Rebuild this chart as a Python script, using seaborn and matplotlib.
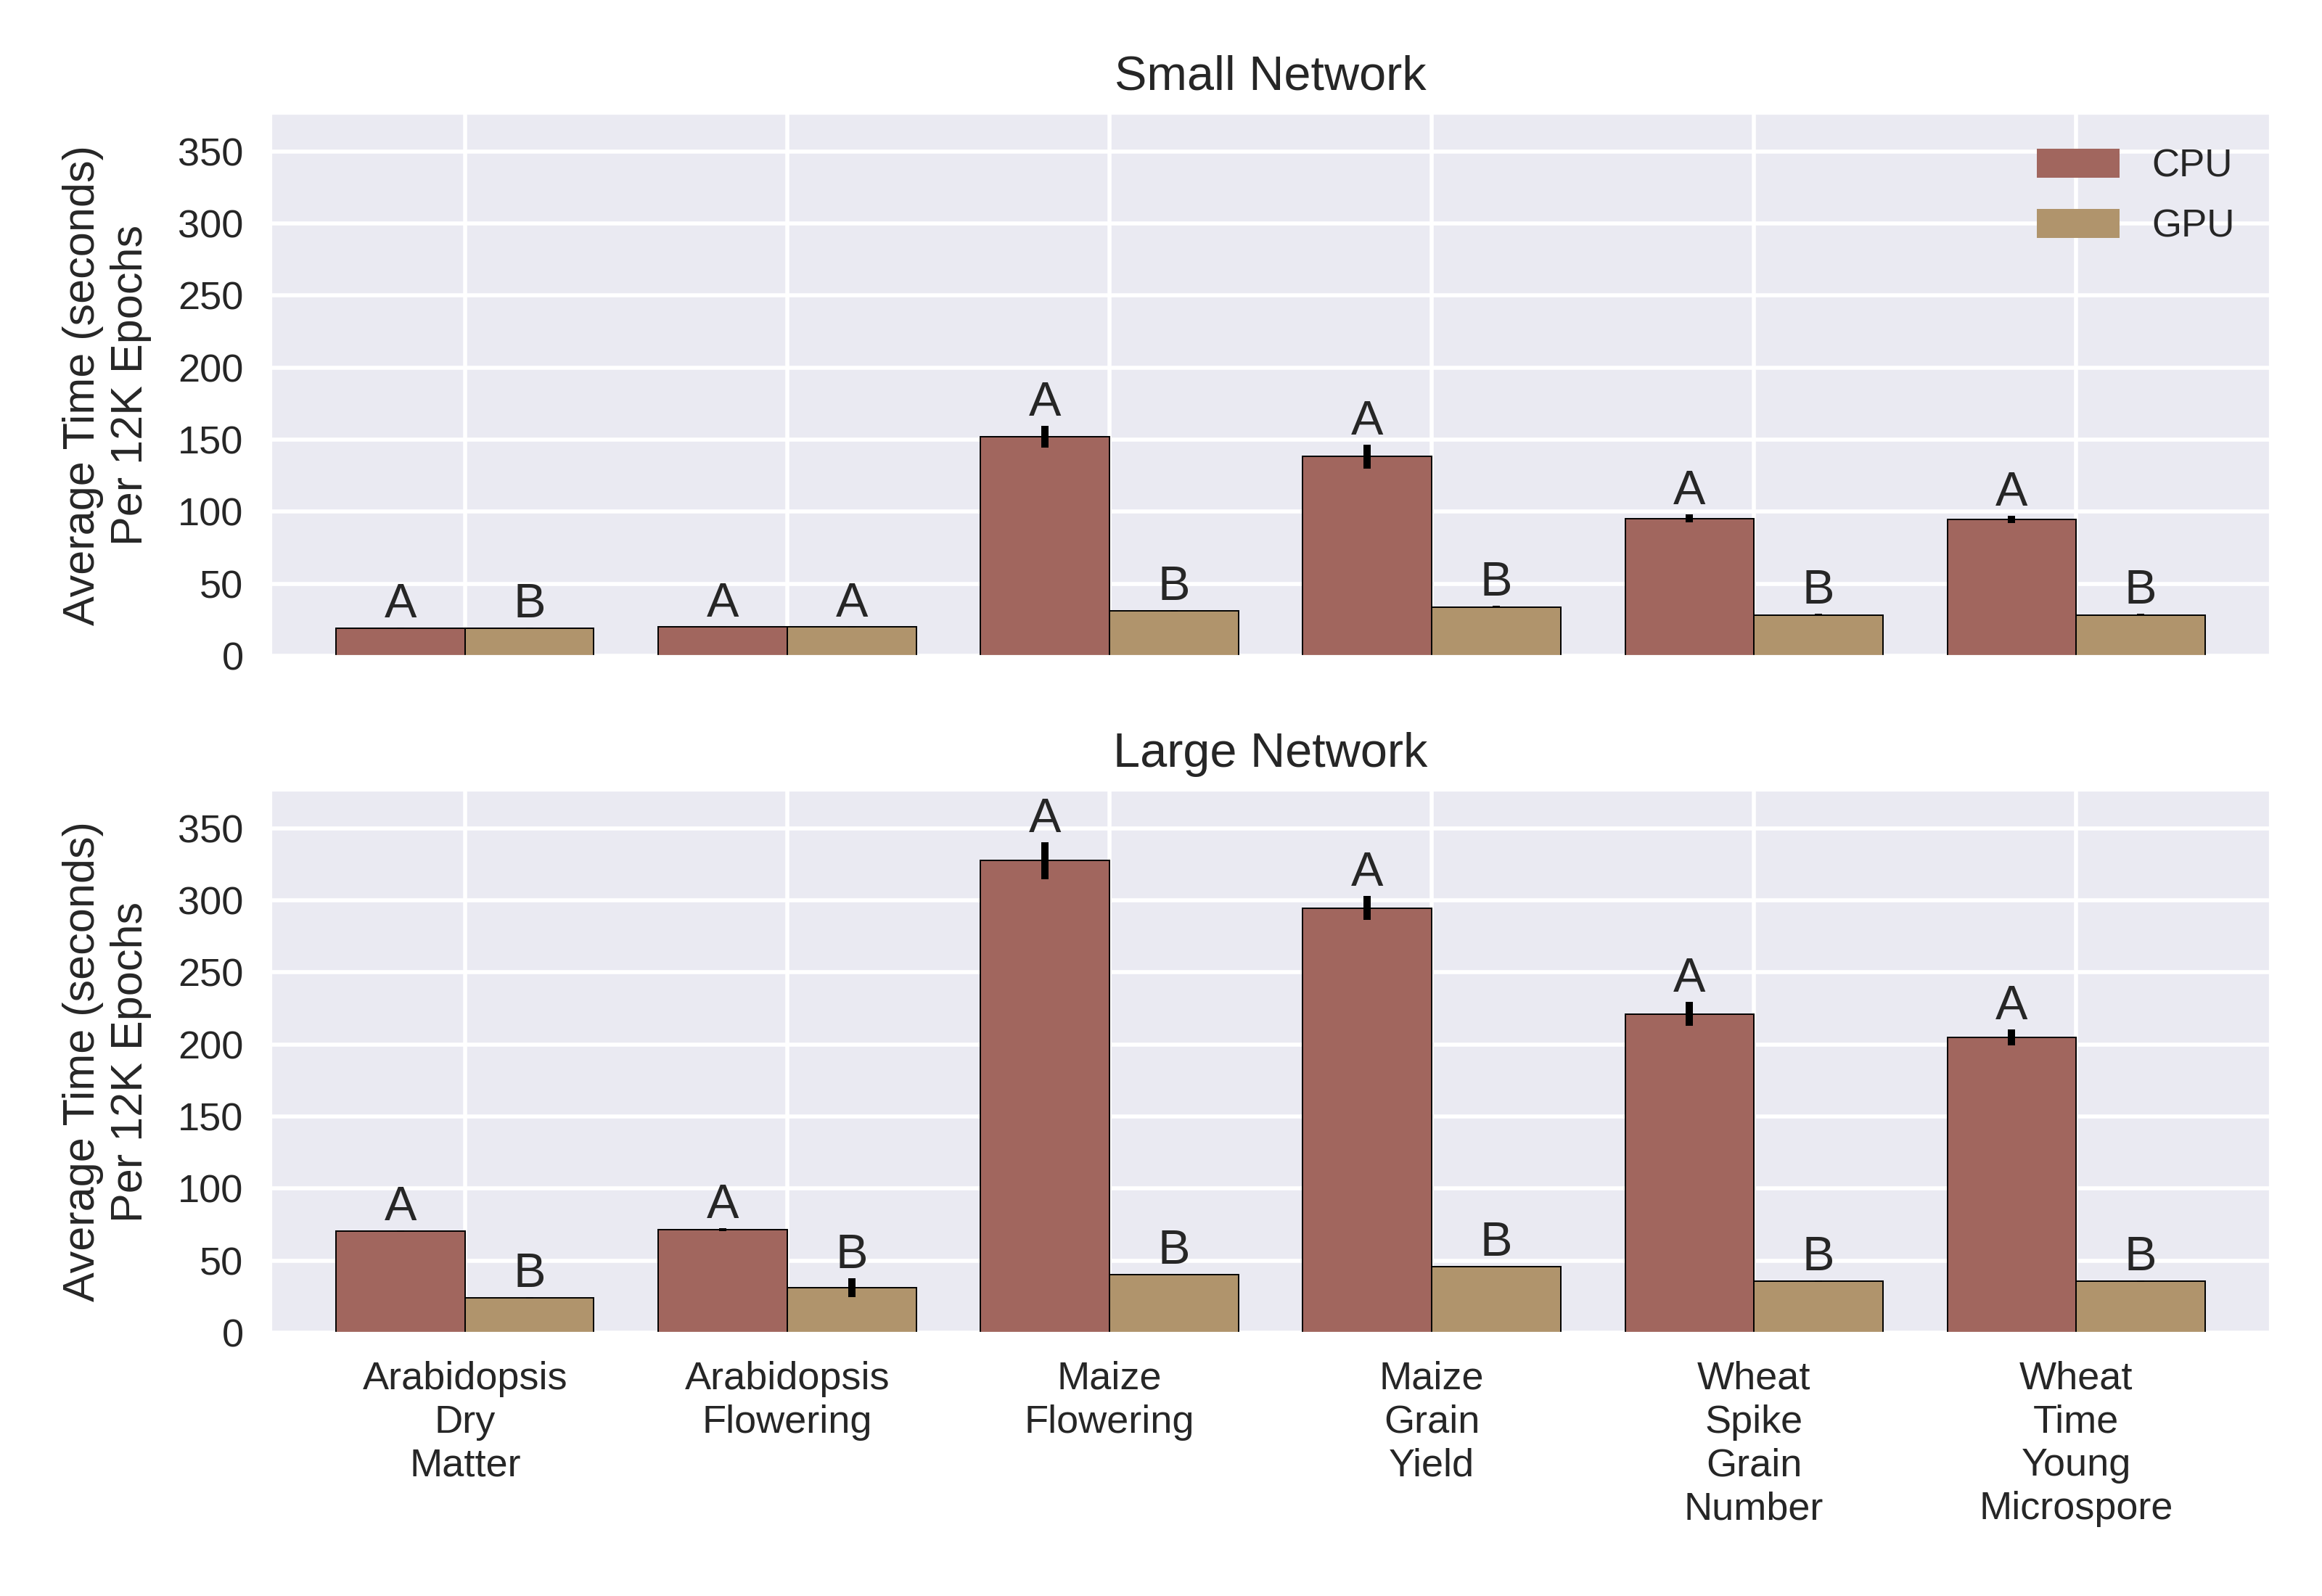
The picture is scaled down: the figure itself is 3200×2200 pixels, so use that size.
import matplotlib
matplotlib.use("Agg")
import matplotlib.pyplot as plt
from matplotlib.patches import Patch
import seaborn as sns
import pandas as pd

# --- chart data ---
CATEGORIES = [
    "Arabidopsis\nDry\nMatter",
    "Arabidopsis\nFlowering",
    "Maize\nFlowering",
    "Maize\nGrain\nYield",
    "Wheat\nSpike\nGrain\nNumber",
    "Wheat\nTime\nYoung\nMicrospore",
]
DEVICES = ["CPU", "GPU"]

SMALL_CPU = [19.4, 20.0, 151.9, 138.3, 95.3, 94.8]
SMALL_GPU = [19.4, 20.0, 31.5, 34.0, 28.5, 28.5]
SMALL_CPU_ERR = [0.3, 0.4, 7.6, 8.4, 2.8, 2.5]
SMALL_GPU_ERR = [0.2, 0.3, 0.5, 0.6, 0.6, 0.6]
SMALL_CPU_LETTERS = ["A", "A", "A", "A", "A", "A"]
SMALL_GPU_LETTERS = ["B", "A", "B", "B", "B", "B"]

LARGE_CPU = [70.5, 71.5, 327.5, 294.5, 221.1, 204.8]
LARGE_GPU = [24.2, 31.2, 40.2, 45.7, 35.7, 35.7]
LARGE_CPU_ERR = [0.4, 0.8, 12.8, 8.3, 8.4, 5.4]
LARGE_GPU_ERR = [0.3, 6.5, 0.4, 0.5, 0.5, 0.4]
LARGE_CPU_LETTERS = ["A", "A", "A", "A", "A", "A"]
LARGE_GPU_LETTERS = ["B", "B", "B", "B", "B", "B"]

COLORS = ["#a1665e", "#b0946c"]
Y_MAX = 376
Y_LABEL = "Average Time (seconds)\nPer 12K Epochs"

sns.set_style("darkgrid")
plt.rcParams["font.family"] = ["Liberation Sans", "DejaVu Sans"]
plt.rcParams["grid.linewidth"] = 2.0
plt.rcParams["text.color"] = "#262626"


def long_frame(cpu, gpu):
    rows = []
    for cat, c, g in zip(CATEGORIES, cpu, gpu):
        rows.append({"category": cat, "device": "CPU", "time": c})
        rows.append({"category": cat, "device": "GPU", "time": g})
    return pd.DataFrame(rows)


def draw_panel(ax, title, cpu, gpu, errs, letters, show_legend, show_xlabels):
    df = long_frame(cpu, gpu)
    sns.barplot(data=df, x="category", y="time", hue="device",
                order=CATEGORIES, hue_order=DEVICES, palette=COLORS,
                saturation=1, errorbar=None, edgecolor="black", linewidth=0.7,
                legend=False, ax=ax)

    # error bars and significance letters on top of each bar
    for container, err, lets in zip(ax.containers, errs, letters):
        for bar, e, let in zip(container, err, lets):
            xc = bar.get_x() + bar.get_width() / 2
            h = bar.get_height()
            ax.errorbar(xc, h, yerr=e, fmt="none", ecolor="black",
                        elinewidth=3.6, capsize=0, zorder=4)
            ax.annotate(let, (xc, h + e), ha="center", va="bottom",
                        fontsize=24, color="#262626")

    ax.set_ylim(0, Y_MAX)
    ax.set_yticks(range(0, 351, 50))
    ax.set_xlim(-0.6, len(CATEGORIES) - 0.4)
    ax.xaxis.grid(True)
    ax.set_axisbelow(True)
    ax.set_title(title, fontsize=24, color="#262626", pad=12)
    ax.set_xlabel("")
    ax.set_ylabel(Y_LABEL, fontsize=22, labelpad=13, color="#262626")
    ax.tick_params(axis="both", labelsize=19.5, pad=14, colors="#262626", length=0)
    if show_xlabels:
        for lab in ax.get_xticklabels():
            lab.set_linespacing(1.25)
    else:
        ax.set_xticklabels([])

    if show_legend:
        handles = [Patch(facecolor=c, edgecolor="none", label=d)
                   for c, d in zip(COLORS, DEVICES)]
        ax.legend(handles=handles, loc="upper right", frameon=False, fontsize=19,
                  handlelength=2.15, handleheight=0.8, labelspacing=0.62,
                  handletextpad=0.85)


fig = plt.figure(figsize=(16, 11), dpi=200)
ax_top = fig.add_axes([0.117, 0.589, 0.8604, 0.3396])
ax_bot = fig.add_axes([0.117, 0.165, 0.8604, 0.3396])

draw_panel(ax_top, "Small Network", SMALL_CPU, SMALL_GPU,
           [SMALL_CPU_ERR, SMALL_GPU_ERR], [SMALL_CPU_LETTERS, SMALL_GPU_LETTERS],
           show_legend=True, show_xlabels=False)
draw_panel(ax_bot, "Large Network", LARGE_CPU, LARGE_GPU,
           [LARGE_CPU_ERR, LARGE_GPU_ERR], [LARGE_CPU_LETTERS, LARGE_GPU_LETTERS],
           show_legend=False, show_xlabels=True)

fig.savefig("out.png", dpi=200)
